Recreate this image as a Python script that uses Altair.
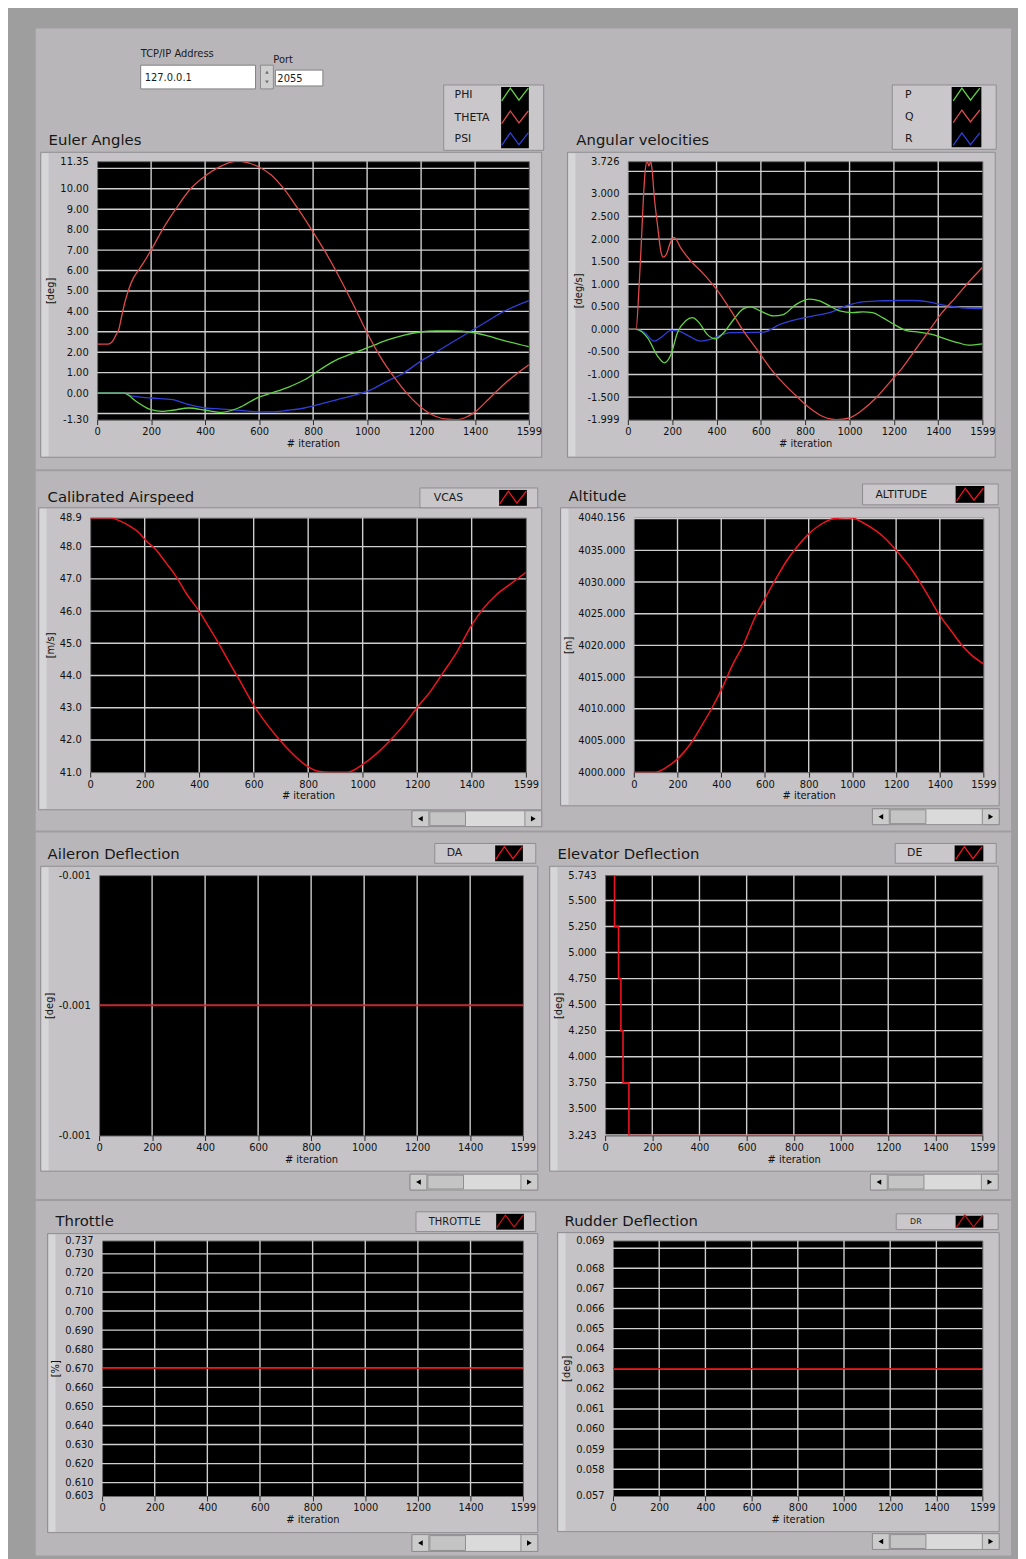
import altair as alt
import pandas as pd

# ---------------- data ----------------
X_TICKS = [0, 200, 400, 600, 800, 1000, 1200, 1400, 1599]
X_GRID = [200, 400, 600, 800, 1000, 1200, 1400]

# Euler angles [deg]
PHI_IT = [0, 100, 144, 199, 242, 279, 340, 401, 462, 523, 597, 645, 707, 768, 829, 890, 951, 1012,
          1073, 1134, 1196, 1257, 1318, 1379, 1440, 1501, 1599]
PHI = [0, 0, -0.4, -0.81, -0.89, -0.84, -0.73, -0.84, -0.94, -0.73, -0.21, 0.0, 0.28, 0.65, 1.18,
       1.65, 1.97, 2.27, 2.59, 2.83, 2.99, 3.04, 3.04, 2.99, 2.83, 2.59, 2.27]
THETA_IT = [0, 40, 55, 70, 80, 90, 100, 115, 135, 155, 175, 200, 242, 291, 346, 400, 450, 517, 597,
            645, 690, 740, 800, 850, 900, 950, 1000, 1050, 1100, 1150, 1200, 1250, 1300, 1330, 1360,
            1400, 1450, 1500, 1550, 1599]
THETA = [2.40, 2.40, 2.5, 2.85, 3.1, 3.7, 4.3, 5.0, 5.65, 6.05, 6.45, 7.0, 8.0, 9.0, 10.0, 10.63,
         11.05, 11.35, 11.08, 10.68, 10.03, 9.1, 7.88, 6.8, 5.6, 4.3, 2.95, 1.75, 0.78, -0.05, -0.7,
         -1.12, -1.28, -1.30, -1.22, -0.92, -0.3, 0.35, 0.9, 1.38]
PSI_IT = [0, 100, 120, 199, 279, 340, 401, 462, 523, 597, 645, 707, 768, 829, 890, 951, 1000, 1073,
          1134, 1196, 1257, 1318, 1379, 1440, 1501, 1599]
PSI = [0, 0, -0.11, -0.24, -0.32, -0.57, -0.73, -0.78, -0.84, -0.92, -0.92, -0.84, -0.73, -0.53,
       -0.32, -0.11, 0.08, 0.57, 0.97, 1.54, 2.02, 2.51, 2.99, 3.48, 3.96, 4.53]
EULER_Y_LABELS = [-1.30, 0, 1, 2, 3, 4, 5, 6, 7, 8, 9, 10, 11.35]
EULER_Y_GRID = [-1, 0, 1, 2, 3, 4, 5, 6, 7, 8, 9, 10, 11]

# Angular velocities [deg/s]
P_IT = [0, 37, 89, 134, 164, 194, 224, 261, 291, 321, 358, 395, 433, 477, 522, 552, 597, 656, 701,
        761, 820, 865, 910, 955, 1014, 1059, 1104, 1149, 1208, 1253, 1313, 1372, 1432, 1492, 1536, 1599]
P = [0, 0, -0.19, -0.59, -0.74, -0.56, -0.07, 0.19, 0.26, 0.15, -0.11, -0.21, -0.07, 0.22, 0.46,
     0.50, 0.41, 0.30, 0.33, 0.56, 0.67, 0.63, 0.52, 0.41, 0.37, 0.39, 0.37, 0.26, 0.09, -0.02,
     -0.06, -0.11, -0.21, -0.30, -0.35, -0.32]
Q_IT = [0, 37, 50, 60, 70, 78, 87, 95, 103, 110, 118, 134, 150, 160, 172, 194, 209, 239, 283, 343,
        403, 462, 522, 582, 641, 701, 761, 820, 880, 920, 940, 999, 1059, 1119, 1178, 1238, 1298,
        1357, 1417, 1477, 1536, 1599]
Q = [0, 0, 0.9, 1.85, 2.9, 3.5, 3.726, 3.62, 3.726, 3.5, 3.0, 2.3, 1.7, 1.6, 1.65, 1.95, 2.04, 1.8,
     1.52, 1.22, 0.87, 0.44, -0.04, -0.44, -0.85, -1.19, -1.48, -1.74, -1.93, -1.99, -1.999, -1.96,
     -1.78, -1.52, -1.19, -0.85, -0.44, -0.04, 0.37, 0.70, 1.04, 1.37]
R_IT = [0, 37, 75, 119, 157, 194, 231, 276, 328, 373, 418, 462, 537, 612, 686, 761, 835, 910, 984,
        1059, 1134, 1208, 1283, 1357, 1432, 1507, 1599]
R = [0, 0, -0.07, -0.26, -0.15, -0.02, -0.04, -0.15, -0.26, -0.22, -0.13, -0.07, -0.07, -0.06,
     0.11, 0.22, 0.30, 0.37, 0.52, 0.61, 0.63, 0.64, 0.64, 0.61, 0.53, 0.48, 0.46]
ANG_Y_LABELS = [-1.999, -1.5, -1.0, -0.5, 0.0, 0.5, 1.0, 1.5, 2.0, 2.5, 3.0, 3.726]
ANG_Y_GRID = [-1.5, -1.0, -0.5, 0.0, 0.5, 1.0, 1.5, 2.0, 2.5, 3.0, 3.5]

# Calibrated airspeed [m/s]
VCAS_IT = [0, 73, 109, 145, 182, 203, 242, 279, 315, 351, 402, 436, 472, 509, 545, 602, 642, 690,
           739, 787, 836, 884, 945, 1000, 1054, 1102, 1151, 1199, 1248, 1296, 1345, 1399, 1441,
           1490, 1539, 1599]
VCAS = [48.9, 48.9, 48.8, 48.64, 48.41, 48.2, 47.9, 47.49, 47.08, 46.57, 45.97, 45.5, 44.99, 44.43,
        43.9, 43.05, 42.56, 42.05, 41.6, 41.24, 41.03, 41.0, 41.0, 41.24, 41.6, 42.0, 42.46, 43.0,
        43.5, 44.1, 44.72, 45.55, 46.06, 46.5, 46.82, 47.2]
VCAS_Y_LABELS = [41.0, 42.0, 43.0, 44.0, 45.0, 46.0, 47.0, 48.0, 48.9]
VCAS_Y_GRID = [42, 43, 44, 45, 46, 47, 48]

# Altitude [m]
ALT_IT = [0, 97, 157, 205, 262, 308, 353, 404, 451, 504, 549, 600, 655, 700, 753, 800, 851, 911,
          971, 999, 1047, 1107, 1153, 1198, 1258, 1303, 1349, 1394, 1454, 1499, 1544, 1599]
ALT = [4000.0, 4000.0, 4000.94, 4002.25, 4004.6, 4007.2, 4009.85, 4013.25, 4016.9, 4020.3, 4024.0,
       4027.4, 4030.8, 4033.4, 4035.8, 4037.6, 4039.0, 4040.0, 4040.156, 4040.1, 4039.4, 4038.1,
       4036.8, 4035.1, 4032.6, 4030.3, 4027.7, 4025.0, 4022.2, 4020.1, 4018.5, 4017.1]
ALT_Y_LABELS = [4000, 4005, 4010, 4015, 4020, 4025, 4030, 4035, 4040.156]
ALT_Y_GRID = [4005, 4010, 4015, 4020, 4025, 4030, 4035, 4040]

# Aileron deflection [deg]
DA_IT = [0, 1599]
DA = [-0.001, -0.001]
DA_Y_LABELS = [-0.0014, -0.001, -0.0006]
DA_Y_GRID = [-0.001]

# Elevator deflection [deg]
DE_IT = [0, 40, 57, 67, 76, 101, 1599]
DE = [5.743, 5.25, 4.75, 4.25, 3.75, 3.243, 3.243]
DE_Y_LABELS = [3.243, 3.5, 3.75, 4.0, 4.25, 4.5, 4.75, 5.0, 5.25, 5.5, 5.743]
DE_Y_GRID = [3.25, 3.5, 3.75, 4.0, 4.25, 4.5, 4.75, 5.0, 5.25, 5.5]

# Throttle [%]
THR_IT = [0, 1599]
THR = [0.670, 0.670]
THR_Y_LABELS = [0.603, 0.61, 0.62, 0.63, 0.64, 0.65, 0.66, 0.67, 0.68, 0.69, 0.70, 0.71, 0.72, 0.73, 0.737]
THR_Y_GRID = [0.61, 0.62, 0.63, 0.64, 0.65, 0.66, 0.67, 0.68, 0.69, 0.70, 0.71, 0.72, 0.73]

# Rudder deflection [deg]
DR_IT = [0, 1599]
DR = [0.063, 0.063]
DR_DOMAIN = [0.056667, 0.069383]
DR_Y_LABELS = [0.056667, 0.058, 0.059, 0.060, 0.061, 0.062, 0.063, 0.064, 0.065, 0.066, 0.067, 0.068, 0.069383]
DR_Y_GRID = [0.057, 0.058, 0.059, 0.060, 0.061, 0.062, 0.063, 0.064, 0.065, 0.066, 0.067, 0.068, 0.069]

# ---------------- styling ----------------
FONT = "DejaVu Sans"
OUTER = "#9f9e9f"
BAND = "#b9b6ba"
FRAME = "#c5c3c6"
FRAME_EDGE = "#8f8d90"
GRID = "#cfcfcf"
C_GREEN = "#62d443"
C_RED = "#e04a4a"
C_BLUE = "#2f3fd8"
C_SINGLE = "#ee1420"
C_DARK = "#c01414"
ZIG = "M-1,0.45L-0.35,-0.5L0.3,0.4L1,-0.5"
MINUS = "\u2212"


def label_expr(fmt):
    return f"replace(format(datum.value, '{fmt}'), '{MINUS}', '-')"


def plot_panel(series, ydom, ylabels, yfmt, ygrid, ytitle, w, h, interp="monotone", lw=1.3):
    rows = []
    for name, its, vals, col in series:
        for i, v in zip(its, vals):
            rows.append({"it": i, "v": v, "s": name, "c": col})
    df = pd.DataFrame(rows)
    xs = alt.Scale(domain=[0, 1599], nice=False, zero=False)
    ys = alt.Scale(domain=ydom, nice=False, zero=False)
    xaxis = alt.Axis(values=X_TICKS, format="d", title="# iteration", grid=False, domain=False,
                     ticks=True, tickSize=5, tickColor="#2a2a2a", labelPadding=2, titlePadding=2,
                     labelFlush=False, labelOverlap=False)
    yaxis = alt.Axis(values=ylabels, labelExpr=label_expr(yfmt), title=ytitle, grid=False,
                     domain=False, ticks=False, labelPadding=9, labelFlush=False,
                     labelOverlap=False, titlePadding=4)
    gx = alt.Chart(pd.DataFrame({"g": X_GRID})).mark_rule(color=GRID, strokeWidth=1.4).encode(
        x=alt.X("g:Q", scale=xs, axis=xaxis, title="# iteration"))
    gy = alt.Chart(pd.DataFrame({"g": ygrid})).mark_rule(color=GRID, strokeWidth=1.4).encode(
        y=alt.Y("g:Q", scale=ys, axis=yaxis, title=ytitle))
    ln = alt.Chart(df).mark_line(strokeWidth=lw, interpolate=interp, clip=True).encode(
        x=alt.X("it:Q", scale=xs, axis=xaxis, title="# iteration"),
        y=alt.Y("v:Q", scale=ys, axis=yaxis, title=ytitle),
        detail="s:N",
        color=alt.Color("c:N", scale=None),
    )
    return alt.layer(gx, gy, ln).properties(
        width=w, height=h, view=alt.ViewBackground(fill="black", stroke="#6d6d6d", strokeWidth=1))


def scrollbar(x0, y0, x1, y1):
    rects = [
        (x0, y0, x1, y1, "#dadada", FRAME_EDGE),
        (x0, y0, x0 + 17, y1, "#cbcbcb", FRAME_EDGE),
        (x1 - 17, y0, x1, y1, "#cbcbcb", FRAME_EDGE),
        (x0 + 18, y0 + 1, x0 + 54, y1 - 1, "#c4c4c4", FRAME_EDGE),
    ]
    tris = [
        (x0 + 8.5, (y0 + y1) / 2, "triangle-left", "#000000", 30),
        (x1 - 8.5, (y0 + y1) / 2, "triangle-right", "#000000", 30),
    ]
    return rects, tris


def frame(x0, y0, x1, y1):
    return [
        (x0, y0, x1, y1, FRAME, FRAME_EDGE),
        (x0 + 1, y0 + 1, x0 + 8, y1 - 1, "#d6d5d7", "transparent"),
    ]


def legend_box(x0, y0, x1, y1, sx0, sx1, entries, fs=11):
    rects = [(x0, y0, x1, y1, "#c9c7ca", FRAME_EDGE), (sx0, y0 + 2, sx1, y1 - 2, "#000000", "transparent")]
    texts = []
    glyphs = []
    for name, tx, ty, col in entries:
        texts.append((tx, ty, name, fs, "#1a1a1a"))
        glyphs.append(((sx0 + sx1) / 2, ty, col))
    return rects, texts, glyphs


def deco_chart(ox, oy, w, rects, texts_mid, texts_base, glyphs, tris):
    layers = []
    df = pd.DataFrame([dict(x0=a - ox, y0=b - oy, x1=c - ox, y1=d - oy, f=f, s=s)
                       for a, b, c, d, f, s in rects])
    layers.append(alt.Chart(df).mark_rect(strokeWidth=1).encode(
        x=alt.X("x0:Q", scale=None), x2="x1:Q",
        y=alt.Y("y0:Q", scale=None), y2="y1:Q",
        fill=alt.Fill("f:N", scale=None), stroke=alt.Stroke("s:N", scale=None)))
    if tris:
        tdf = pd.DataFrame([dict(x=a - ox, y=b - oy, sh=sh, c=c, sz=sz) for a, b, sh, c, sz in tris])
        layers.append(alt.Chart(tdf).mark_point(filled=True, opacity=1).encode(
            x=alt.X("x:Q", scale=None), y=alt.Y("y:Q", scale=None),
            shape=alt.Shape("sh:N", scale=None), fill=alt.Fill("c:N", scale=None),
            size=alt.Size("sz:Q", scale=None)))
    if glyphs:
        gdf = pd.DataFrame([dict(x=a - ox, y=b - oy, c=c) for a, b, c in glyphs])
        layers.append(alt.Chart(gdf).mark_point(shape=ZIG, filled=False, size=720, strokeWidth=1.3,
                                                opacity=1).encode(
            x=alt.X("x:Q", scale=None), y=alt.Y("y:Q", scale=None),
            stroke=alt.Stroke("c:N", scale=None)))
    if texts_mid:
        mdf = pd.DataFrame([dict(x=a - ox, y=b - oy, t=t, fs=fs, c=c) for a, b, t, fs, c in texts_mid])
        layers.append(alt.Chart(mdf).mark_text(align="left", baseline="middle", font=FONT).encode(
            x=alt.X("x:Q", scale=None), y=alt.Y("y:Q", scale=None), text="t:N",
            size=alt.Size("fs:Q", scale=None), color=alt.Color("c:N", scale=None)))
    if texts_base:
        bdf = pd.DataFrame([dict(x=a - ox, y=b - oy, t=t, fs=fs, c=c) for a, b, t, fs, c in texts_base])
        layers.append(alt.Chart(bdf).mark_text(align="left", baseline="alphabetic", font=FONT).encode(
            x=alt.X("x:Q", scale=None), y=alt.Y("y:Q", scale=None), text="t:N",
            size=alt.Size("fs:Q", scale=None), color=alt.Color("c:N", scale=None)))
    return alt.layer(*layers).properties(width=w, height=1)


def spacer(w):
    return alt.Chart(pd.DataFrame({"z": [0]})).mark_point(opacity=0).encode(
        x=alt.value(0), y=alt.value(0)).properties(width=w, height=1)


def make_row(top, left_x, wl, right_x, wr, h, pl, pr, rects, texts_mid, texts_base, glyphs, tris):
    sp1 = deco_chart(35, top, left_x - 35, rects, texts_mid, texts_base, glyphs, tris)
    sp2 = spacer(right_x - (left_x + wl))
    return alt.hconcat(sp1, pl, sp2, pr, spacing=0, bounds="flush")


TITLE_FS = 15
TITLE_C = "#161616"

# ---------------- row 1 ----------------
top1 = 154
r_rects = [(35, 20, 1020, 465, BAND, "transparent")]
r_rects += frame(40, 145, 546, 453) + frame(572, 145, 1004, 453)
r_rects += [(141, 57, 257, 81, "#ffffff", "#7f7f7f"), (262, 57, 275, 81, "#cfcfcf", "#8a8a8a"),
            (277, 62, 325, 78, "#ffffff", "#7f7f7f")]
lr, lt, lg = legend_box(447, 77, 548, 143, 505, 533,
                        [("PHI", 458, 87, C_GREEN), ("THETA", 458, 110, C_RED), ("PSI", 458, 132, C_BLUE)])
ar, at, ag = legend_box(900, 77, 1005, 142, 960, 990,
                        [("P", 913, 87, C_GREEN), ("Q", 913, 109, C_RED), ("R", 913, 132, C_BLUE)])
r_rects += lr + ar
t_mid = [(141, 46, "TCP/IP Address", 10, "#1a1a1a"), (145, 70, "127.0.0.1", 10, "#1a1a1a"),
         (275, 52, "Port", 10, "#1a1a1a"), (279, 71, "2055", 10, "#1a1a1a")] + lt + at
t_base = [(48, 138, "Euler Angles", TITLE_FS, TITLE_C), (581, 138, "Angular velocities", TITLE_FS, TITLE_C)]
tris1 = [(268.5, 64, "triangle-up", "#707070", 14), (268.5, 74, "triangle-down", "#707070", 14)]
p1 = plot_panel([("PSI", PSI_IT, PSI, C_BLUE), ("PHI", PHI_IT, PHI, C_GREEN), ("THETA", THETA_IT, THETA, C_RED)],
                [-1.30, 11.35], EULER_Y_LABELS, ".2f", EULER_Y_GRID, "[deg]", 436, 261)
p2 = plot_panel([("R", R_IT, R, C_BLUE), ("P", P_IT, P, C_GREEN), ("Q", Q_IT, Q, C_RED)],
                [-1.999, 3.726], ANG_Y_LABELS, ".3f", ANG_Y_GRID, "[deg/s]", 358, 261)
row1 = make_row(top1, 97, 436, 633, 358, 261, p1, p2, r_rects, t_mid, t_base, lg + ag, tris1)

# ---------------- row 2 ----------------
top2 = 512
r_rects = [(35, 465, 1020, 828, BAND, "transparent")]
r_rects += frame(38, 502, 546, 807) + frame(565, 502, 1008, 803)
s1r, s1t = scrollbar(415, 808, 546, 824)
s2r, s2t = scrollbar(880, 806, 1008, 822)
vr, vt, vg = legend_box(423, 482, 542, 502, 503, 531, [("VCAS", 437, 492, C_SINGLE)])
alr, alt_t, alg = legend_box(870, 478, 1007, 499, 964, 993, [("ALTITUDE", 883, 489, C_SINGLE)])
r_rects += s1r + s2r + vr + alr
t_base = [(47, 496, "Calibrated Airspeed", TITLE_FS, TITLE_C), (573, 495, "Altitude", TITLE_FS, TITLE_C)]
p3 = plot_panel([("VCAS", VCAS_IT, VCAS, C_SINGLE)], [41.0, 48.9], VCAS_Y_LABELS, ".1f", VCAS_Y_GRID,
                "[m/s]", 440, 257, lw=1.5)
p4 = plot_panel([("ALTITUDE", ALT_IT, ALT, C_SINGLE)], [4000.0, 4040.156], ALT_Y_LABELS, ".3f", ALT_Y_GRID,
                "[m]", 353, 257, lw=1.5)
row2 = make_row(top2, 90, 440, 639, 353, 257, p3, p4, r_rects, vt + alt_t, t_base, vg + alg, s1t + s2t)

# ---------------- row 3 ----------------
top3 = 871
r_rects = [(35, 828, 1020, 1198, BAND, "transparent")]
r_rects += frame(40, 862, 542, 1170) + frame(554, 862, 1007, 1170)
s1r, s1t = scrollbar(413, 1173, 542, 1189)
s2r, s2t = scrollbar(878, 1173, 1007, 1189)
dar, dat, dag = legend_box(438, 839, 540, 859, 499, 527, [("DA", 450, 849, C_SINGLE)])
der, det, deg = legend_box(903, 839, 1005, 859, 963, 992, [("DE", 915, 849, C_SINGLE)])
r_rects += s1r + s2r + dar + der
t_base = [(47, 855, "Aileron Deflection", TITLE_FS, TITLE_C), (562, 855, "Elevator Deflection", TITLE_FS, TITLE_C)]
p5 = plot_panel([("DA", DA_IT, DA, C_SINGLE)], [-0.0014, -0.0006], DA_Y_LABELS, ".3f", DA_Y_GRID,
                "[deg]", 428, 263, interp="linear", lw=1.6)
p6 = plot_panel([("DE", DE_IT, DE, C_SINGLE)], [3.243, 5.743], DE_Y_LABELS, ".3f", DE_Y_GRID,
                "[deg]", 381, 263, interp="step-after", lw=1.6)
row3 = make_row(top3, 99, 428, 610, 381, 263, p5, p6, r_rects, dat + det, t_base, dag + deg, s1t + s2t)

# ---------------- row 4 ----------------
top4 = 1238
r_rects = [(35, 1198, 1020, 1556, BAND, "transparent")]
r_rects += frame(47, 1231, 542, 1533) + frame(562, 1230, 1008, 1532)
s1r, s1t = scrollbar(415, 1535, 542, 1552)
s2r, s2t = scrollbar(880, 1534, 1008, 1550)
thr_r, thr_t, thr_g = legend_box(419, 1209, 540, 1229, 500, 528, [("THROTTLE", 432, 1219, C_DARK)], fs=10)
drr, drt, drg = legend_box(904, 1211, 1007, 1227, 964, 992, [("DR", 918, 1219, C_DARK)], fs=8)
r_rects += s1r + s2r + thr_r + drr
t_base = [(55, 1223, "Throttle", TITLE_FS, TITLE_C), (569, 1223, "Rudder Deflection", TITLE_FS, TITLE_C)]
p7 = plot_panel([("THROTTLE", THR_IT, THR, C_DARK)], [0.603, 0.737], THR_Y_LABELS, ".3f", THR_Y_GRID,
                "[%]", 425, 258, interp="linear", lw=1.6)
p8 = plot_panel([("DR", DR_IT, DR, C_DARK)], DR_DOMAIN, DR_Y_LABELS, ".3f", DR_Y_GRID,
                "[deg]", 373, 258, interp="linear", lw=1.6)
row4 = make_row(top4, 102, 425, 618, 373, 258, p7, p8, r_rects, thr_t + drt, t_base, thr_g + drg, s1t + s2t)

chart = alt.vconcat(row1, row2, row3, row4, spacing=0, bounds="full").properties(
    background=OUTER,
    padding={"left": 27, "top": 12, "right": 6, "bottom": 4},
).configure_view(
    stroke="transparent"
).configure_axis(
    labelFont=FONT, labelFontSize=10, labelColor="#111111",
    titleFont=FONT, titleFontSize=10, titleFontWeight="normal", titleColor="#111111",
)

chart.save("out.html", embed_options={"renderer": "svg", "actions": False})
